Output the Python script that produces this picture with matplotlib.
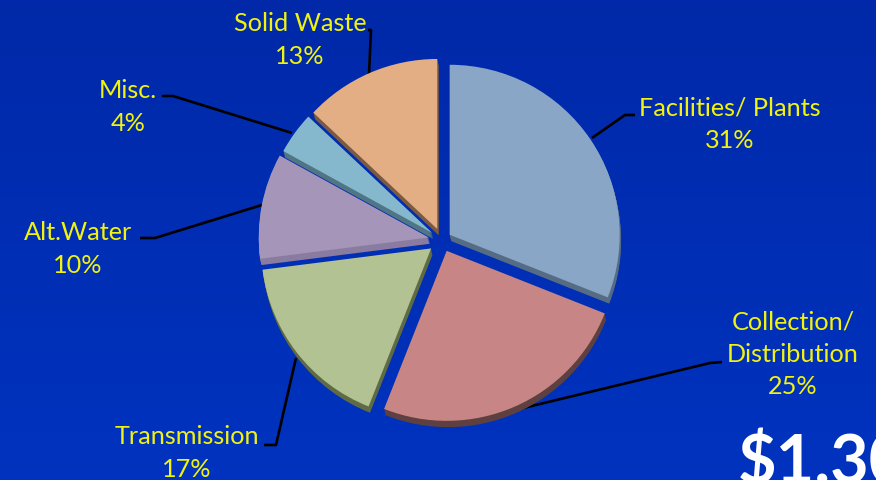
import matplotlib

matplotlib.use("Agg")
import matplotlib.pyplot as plt
import numpy as np

labels = ["Facilities/ Plants", "Collection/\nDistribution", "Transmission", "Alt.Water", "Misc.", "Solid Waste"]
shares = [31, 25, 17, 10, 4, 13]

top_colors = ["#8aa6c6", "#c78685", "#b2c292", "#a596b9", "#85b8cc", "#e4ae85"]
side_colors = ["#566c85", "#5f4040", "#5f6b45", "#8a7ba0", "#507585", "#7a5a40"]
explode = [9.3, 11.8, 13.7, 13.5, 12, 12]  # px, each slice pulled out by hand in the original

# label centre in px from the top left
label_pos = [(730, 124), (793, 354), (187, 453), (78, 249), (128, 107), (300, 40)]
leaders = [
    [(592, 138), (625, 115), (635, 115)],
    [(515, 410), (710, 363), (722, 362)],
    [(296, 358), (276, 445), (264, 445)],
    [(262, 205), (155, 238), (140, 238)],
    [(292, 133), (173, 96), (162, 96)],
    [(369, 74), (371, 30), (368, 30)],
]

plt.rcParams["font.family"] = ["Lato", "DejaVu Sans"]

fig = plt.figure(figsize=(8.76, 4.8), dpi=100)
ax = fig.add_axes([0, 0, 1, 1])

cx, cy, radius = 442, 480 - 240, 170

# extruded edge: stack of darker pies under the top one
for i in range(7, 0, -1):
    wedges, _ = ax.pie(
        shares,
        explode=explode,
        colors=side_colors,
        startangle=90,
        counterclock=False,
        radius=radius,
        center=(cx + i * 0.2, cy - i * 0.9),
    )
    for w in wedges:
        w.set_zorder(3)

wedges, _ = ax.pie(
    shares,
    explode=explode,
    colors=top_colors,
    startangle=90,
    counterclock=False,
    radius=radius,
    center=(cx, cy),
)
for w in wedges:
    w.set_zorder(4)

for pts in leaders:
    xs = [p[0] for p in pts]
    ys = [480 - p[1] for p in pts]
    ax.plot(xs, ys, color="black", linewidth=1.9, zorder=2, solid_capstyle="butt")

for name, share, (x, y) in zip(labels, shares, label_pos):
    ax.text(x, 480 - y, f"{name}\n{share}%", color="#f2f20f", fontsize=18.2, ha="center", va="center",
            linespacing=1.5, zorder=5)

ax.text(738, 480 - 483, "$1.30", color="white", fontsize=48, fontweight="bold", ha="left", va="baseline", zorder=5)

# background gets slightly lighter toward the bottom
grad = np.linspace(0, 1, 256).reshape(-1, 1)
bg = np.zeros((256, 1, 3))
bg[:, :, 1] = (0.16 + 0.04 * grad)
bg[:, :, 2] = (0.66 + 0.09 * grad)
ax.imshow(bg, extent=(0, 876, 0, 480), origin="upper", aspect="auto", zorder=0)

ax.set_xlim(0, 876)
ax.set_ylim(0, 480)
ax.set_aspect("auto")
ax.axis("off")

fig.savefig("out.png", dpi=100)
plt.close(fig)
